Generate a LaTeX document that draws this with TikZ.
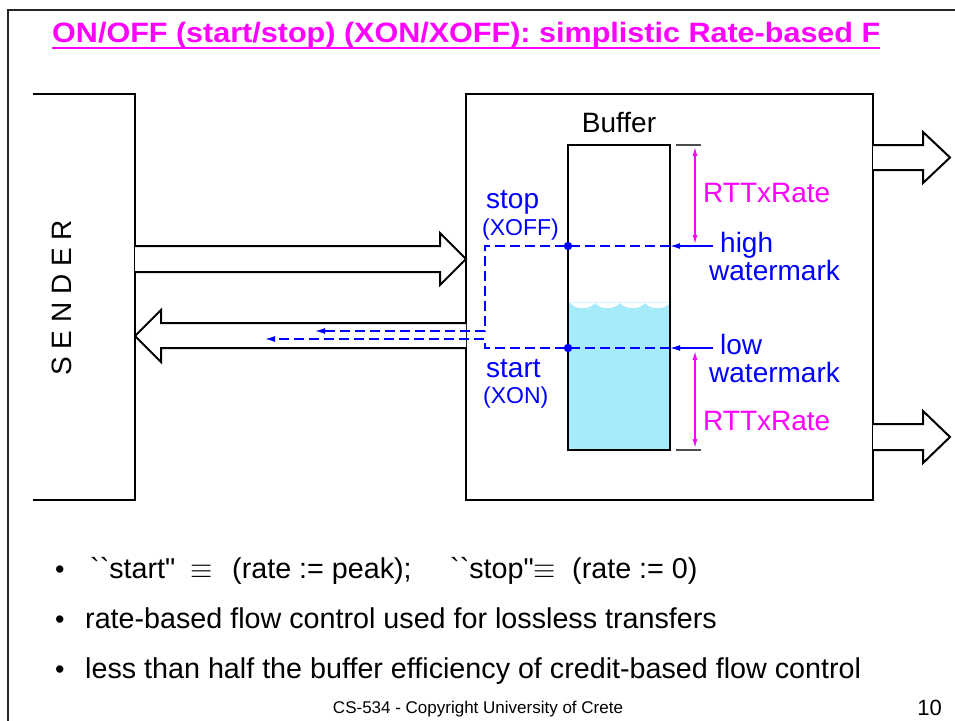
\documentclass[tikz,border=0pt]{standalone}
\usepackage{fix-cm}
\usepackage{graphicx}
\usepackage{fontspec}
\setmainfont{Liberation Sans}
\usetikzlibrary{arrows.meta}

\definecolor{slidemagenta}{RGB}{255,0,255}
\definecolor{markblue}{RGB}{0,0,255}
\definecolor{waterfill}{RGB}{166,235,250}

\newcommand{\fsz}[1]{\fontsize{#1}{#1}\selectfont}

\begin{document}
\begin{tikzpicture}[x=1pt, y=-1pt, line join=miter,
  outline/.style={draw=black, line width=2pt},
  fatarrow/.style={draw=black, line width=2pt, fill=white},
  txt/.style={inner sep=0pt, anchor=base west, font=\fsz{28}},
  bluetxt/.style={txt, text=markblue},
  smallblue/.style={txt, text=markblue, font=\fsz{23}},
  pinktxt/.style={txt, text=slidemagenta},
  signal/.style={draw=markblue, line width=1.4pt, dash pattern=on 10pt off 5pt},
  pointer/.style={draw=markblue, line width=1.4pt, -{Latex[length=10pt,width=6pt]}},
  span/.style={draw=slidemagenta, line width=1.3pt,
    {Latex[length=9pt,width=5pt]}-{Latex[length=9pt,width=5pt]}},
  tick/.style={draw=black!70, line width=1.2pt},
  bullettxt/.style={txt, font=\fsz{28.7}}
]
\useasboundingbox (0,0) rectangle (955,720);
\fill[white] (0,0) rectangle (955,720);

% slide frame (only the top and left edges are visible)
\draw[line width=2.5pt, black!85] (8,725) -- (8,10) -- (960,10);

% title with underline
\node[anchor=base west, inner sep=0pt, text=slidemagenta, font=\fsz{28}\bfseries]
  (title) at (52,42) {\resizebox{828pt}{\height}{ON/OFF (start/stop) (XON/XOFF): simplistic Rate-based F}};
\draw[slidemagenta, line width=1.8pt]
  ([yshift=-6pt]title.base west) -- ([yshift=-6pt]title.base east);

% sender (open on the left)
\draw[outline] (33,94) -- (135,94) -- (135,500) -- (33,500);
\node[rotate=90, inner sep=0pt, font=\fsz{28}] (sender) at (62,298) {S E N D E R};

% receiver
\node[outline, minimum width=407pt, minimum height=406pt, inner sep=0pt]
  (recv) at (669.5,297) {};

% data path sender -> receiver
\draw[fatarrow] (135,246) -- (440,246) -- (440,233) -- (466,259)
  -- (440,285) -- (440,272) -- (135,272);
% control path receiver -> sender
\draw[fatarrow] (466,323) -- (161,323) -- (161,310) -- (135,336)
  -- (161,362) -- (161,348) -- (466,348);

% outgoing links of the receiver
\draw[fatarrow] (873,145) -- (923,145) -- (923,132) -- (950,157.5)
  -- (923,183) -- (923,170) -- (873,170);
\draw[fatarrow] (873,424) -- (923,424) -- (923,411) -- (950,437)
  -- (923,463) -- (923,450) -- (873,450);

% buffer contents
\fill[waterfill] (568,450) -- (568,303)
  -- (570,303) .. controls (575,310) and (590,310) .. (595,303)
  .. controls (600,310) and (615,310) .. (620,303)
  .. controls (625,310) and (640,310) .. (645,303)
  .. controls (650,310) and (665,310) .. (670,303)
  -- (670,450) -- cycle;
\draw[waterfill!45, line width=0.8pt] (568,302.5) -- (670,302.5);

% buffer
\node[outline, minimum width=102pt, minimum height=305pt, inner sep=0pt]
  (buf) at (619,297.5) {};
\node[txt, anchor=base] (buflbl) at (619,132) {Buffer};

% watermark levels on the buffer
\coordinate (hiL) at (568,246);
\coordinate (hiR) at (670,246);
\coordinate (loL) at (568,348);
\coordinate (loR) at (670,348);
\coordinate (hiTurn) at (485,246);
\coordinate (loTurn) at (485,348);
\coordinate (stopEnd) at (315,331);
\coordinate (startEnd) at (265,339);

\draw[signal] (hiR) -- (hiTurn) -- (hiTurn |- stopEnd) -- ([xshift=8pt]stopEnd);
\draw[signal] (loR) -- (loTurn) -- (loTurn |- startEnd) -- ([xshift=8pt]startEnd);
\draw[pointer] ([xshift=10pt]stopEnd) -- (stopEnd);
\draw[pointer] ([xshift=10pt]startEnd) -- (startEnd);
\fill[markblue] (hiL) circle (4.2pt);
\fill[markblue] (loL) circle (4.2pt);

% labels of the watermarks
\node[bluetxt] (stoplbl) at (486,208) {stop};
\node[smallblue] (xofflbl) at (482,235) {(XOFF)};
\node[bluetxt] (startlbl) at (486,377) {start};
\node[smallblue] (xonlbl) at (483,403) {(XON)};

\node[bluetxt] (highlbl) at (720,252) {high};
\node[bluetxt] (highwm) at (709,280) {watermark};
\node[bluetxt] (lowlbl) at (720,354) {low};
\node[bluetxt] (lowwm) at (709,382) {watermark};
\draw[pointer] (713,246) -- (hiR);
\draw[pointer] (713,348) -- (loR);

% RTT x Rate margins
\coordinate (topTick) at (695,145);
\coordinate (botTick) at (695,450);
\draw[tick] ([xshift=-19pt]topTick) -- ([xshift=6pt]topTick);
\draw[tick] ([xshift=-19pt]botTick) -- ([xshift=6pt]botTick);
\draw[span] ([yshift=-2pt]topTick) -- (695,244);
\draw[span] (695,351) -- ([yshift=2pt]botTick);
\node[pinktxt] (rtt1) at (703,202) {RTTxRate};
\node[pinktxt] (rtt2) at (703,430) {RTTxRate};

% bullet list
\node[txt, font=\fsz{27}] (d1) at (55,578) {\textbullet};
\node[txt, font=\fsz{27}] (d2) at (55,628) {\textbullet};
\node[txt, font=\fsz{27}] (d3) at (55,678) {\textbullet};

\node[bullettxt] (q1) at (90,578) {\textasciigrave\textasciigrave start\textquotedbl};
\node[bullettxt] (e1) at (190,578) {$\equiv$};
\node[bullettxt] (r1) at (232,578) {(rate := peak);};
\node[bullettxt] (q2) at (450,578) {\textasciigrave\textasciigrave stop\textquotedbl};
\node[bullettxt] (e2) at (533,578) {$\equiv$};
\node[bullettxt] (r2) at (572,578) {(rate := 0)};
\node[bullettxt] (l2) at (85,628) {rate-based flow control used for lossless transfers};
\node[bullettxt] (l3) at (85,678) {less than half the buffer efficiency of credit-based flow control};

% footer
\node[inner sep=0pt, anchor=base, font=\fsz{17}] (foot) at (478,713) {CS-534 - Copyright University of Crete};
\node[inner sep=0pt, anchor=base east, font=\fsz{22}] (page) at (942,715) {10};
\end{tikzpicture}
\end{document}
